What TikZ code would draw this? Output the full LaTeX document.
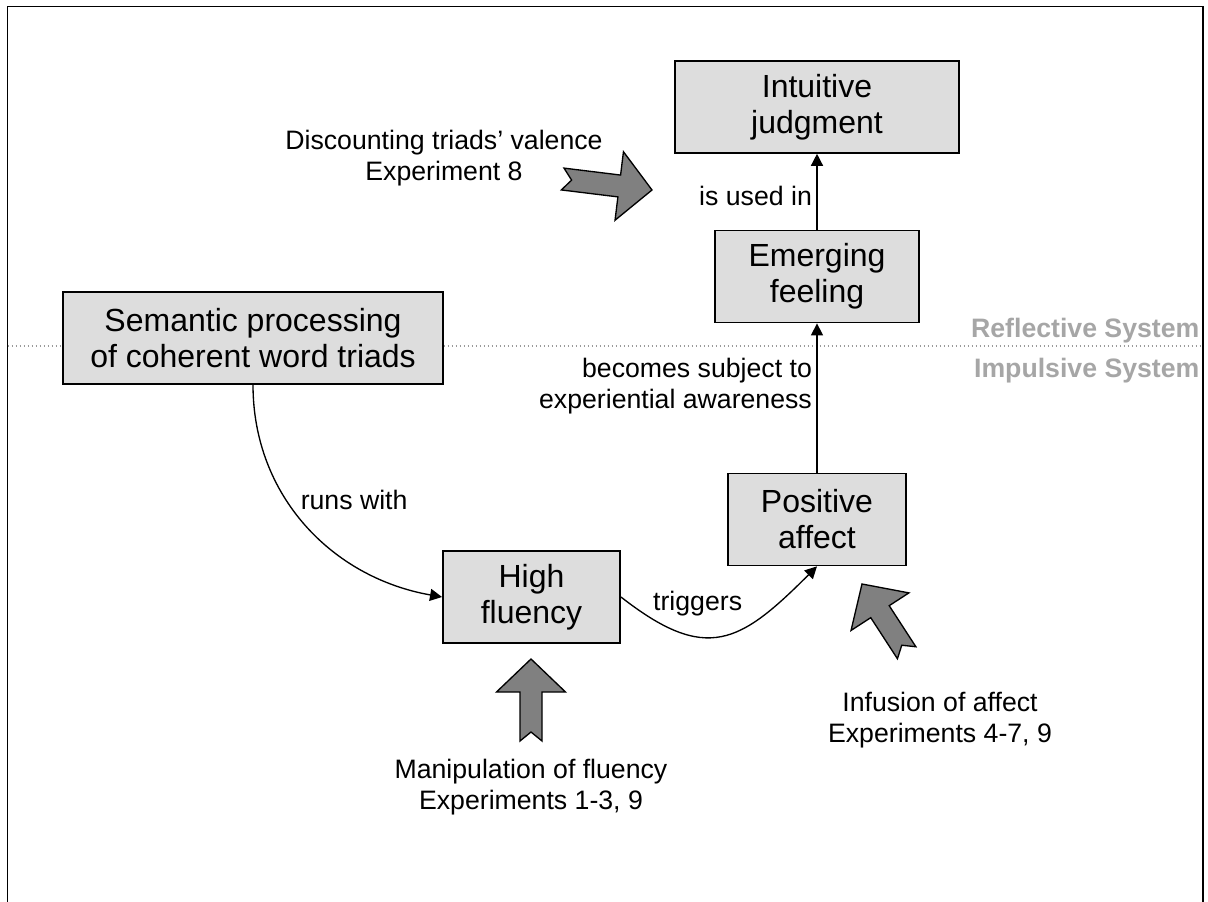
\documentclass[tikz,border=0pt]{standalone}
\usepackage{fontspec}
\setmainfont{Liberation Sans}
\usetikzlibrary{arrows.meta, positioning}
\definecolor{BoxFill}{HTML}{DDDDDD}
\definecolor{ArrowGray}{HTML}{808080}
\definecolor{SysGray}{HTML}{A6A6A6}
\definecolor{Rule}{HTML}{9A9A9A}

\begin{document}
\begin{tikzpicture}[
            x=0.75pt, y=-0.75pt,
            box/.style={
                rectangle,
                draw=black,
                fill=BoxFill,
                line width=1.2pt,
                minimum height=69pt,
                inner sep=0pt,
                align=center,
                font=\fontsize{24}{27}\selectfont
            },
            link/.style={-{Triangle[length=9pt, width=9pt]}, line width=1pt},
            note/.style={font=\fontsize{20}{23}\selectfont, align=center},
            syslabel/.style={font=\fontsize{20}{24}\selectfont\bfseries, text=SysGray, inner xsep=1pt},
            blockarrow/.style={draw=black, fill=ArrowGray, line width=1pt, line join=miter}
        ]
            \useasboundingbox (0,0) rectangle (1208,902);

            % Frame, open at the bottom
            \draw[line width=1.3pt] (7.5,902) -- (7.5,6.5) -- (1203,6.5) -- (1203,902);

            % Divider between the two systems
            \draw[Rule, dotted, line width=1pt] (7.5,346) -- (1203,346);
            \node[syslabel, anchor=base east] (reflective) at (1201,338) {Reflective System};
            \node[syslabel, anchor=base east] (impulsive) at (1201,378) {Impulsive System};

            % Boxes
            \node[box, minimum width=213pt] (judgment) at (817,107) {Intuitive\\judgment};
            \node[box, minimum width=153pt, below=57pt of judgment] (feeling) {Emerging\\feeling};
            \node[box, minimum width=133.5pt, below=112pt of feeling] (affect) {Positive\\affect};
            \node[box, minimum width=285pt] (semantic) at (253,338) {Semantic processing\\of coherent word triads};
            \node[box, minimum width=133pt] (fluency) at (531.5,597) {High\\fluency};

            % Main flow
            \draw[link] (semantic.south) to[out=-90, in=170] node[note, pos=0.39, right=7pt]{runs with} (fluency.west);
            \draw[link] (fluency.east) to[out=-38, in=-135, looseness=1.4] node[note, pos=0.36, above=12pt]{triggers} (affect.south);
            \draw[link] (affect) -- node[note, pos=0.58, left, align=right]{becomes subject to\\experiential awareness} (feeling);
            \draw[link] (feeling) -- node[note, pos=0.45, left]{is used in} (judgment);

            % Manipulations
            \foreach \tipx/\tipy/\ang/\len in {652/190/-7/90, 531/659/90/82, 862/584/123/82}
                \draw[blockarrow, shift={(\tipx,\tipy)}, rotate=\ang]
                    (0,0) -- (-33,-34.5) -- (-33,-11) -- (-\len,-11) -- (-\len+9,0)
                    -- (-\len,11) -- (-33,11) -- (-33,34.5) -- cycle;
            \node[note] (discount) at (444,158) {Discounting triads' valence\\Experiment 8};
            \node[note] (manip) at (531,787) {Manipulation of fluency\\Experiments 1-3, 9};
            \node[note] (infusion) at (940,720) {Infusion of affect\\Experiments 4-7, 9};
        \end{tikzpicture}
\end{document}
